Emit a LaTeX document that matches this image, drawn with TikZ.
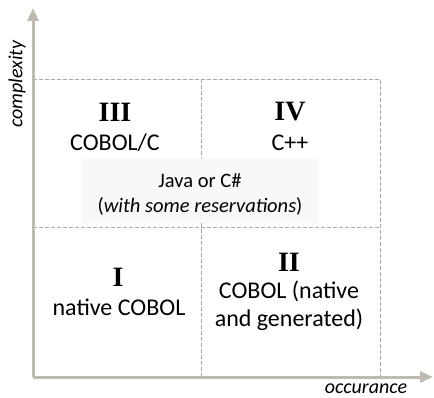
\documentclass[tikz,border=0pt]{standalone}
\usepackage{fontspec}
\setmainfont{Carlito}
\newfontfamily\numfont{Liberation Serif}
\usetikzlibrary{arrows.meta}
\definecolor{axisgray}{RGB}{190,186,176}
\definecolor{gridgray}{RGB}{168,168,168}
\definecolor{boxgray}{RGB}{248,248,248}
\tikzset{
  axis/.style={axisgray, line width=3pt, -{Triangle[length=13pt,width=11pt]}},
  grid line/.style={gridgray, line width=0.9pt, dash pattern=on 4pt off 2pt},
  numeral/.style={font=\numfont\bfseries\fontsize{28}{32}\selectfont, inner sep=0pt},
  quadtext/.style={font=\fontsize{24}{28}\selectfont, align=center, inner sep=0pt},
  axislabel/.style={font=\itshape\fontsize{20}{24}\selectfont, inner sep=0pt}
}
\begin{document}
\begin{tikzpicture}[x=1pt,y=-1pt]
    \useasboundingbox (0,0) rectangle (434,398);
    % quadrants
    \draw[grid line] (33,79) -- (380,79) -- (380,377);
    \draw[grid line] (33,227) -- (380,227);
    \draw[grid line] (201,79) -- (201,377);
    \node[fill=boxgray, minimum width=236pt, minimum height=65pt, inner sep=0pt] (javabox) at (200,190.5) {};
    \node[font=\fontsize{20.5}{25}\selectfont, align=center, inner sep=0pt] (java) at (200,194.5)
        {Java or C\#\\(\textit{with some reservations})};

    \node[numeral] (n3) at (115,112) {III};
    \node[quadtext] (t3) at (115,143) {COBOL/C};
    \node[numeral] (n4) at (290,112) {IV};
    \node[quadtext] (t4) at (290,143) {C++};
    \node[numeral] (n1) at (118,277) {I};
    \node[quadtext] (t1) at (119,307) {native COBOL};
    \node[numeral] (n2) at (289,262) {II};
    \node[quadtext] (t2) at (289,306) {COBOL (native\\and generated)};

    % axes
    \coordinate (O) at (33,377);
    \coordinate (ytip) at (33,8);
    \coordinate (xtip) at (433,377);
    \draw[axis] (O) -- (ytip);
    \draw[axis] (O) -- (xtip);
    \node[axislabel, rotate=90] (ylabel) at (17,84) {complexity};
    \node[axislabel] (xlabel) at (366,389) {occurance};
\end{tikzpicture}
\end{document}
